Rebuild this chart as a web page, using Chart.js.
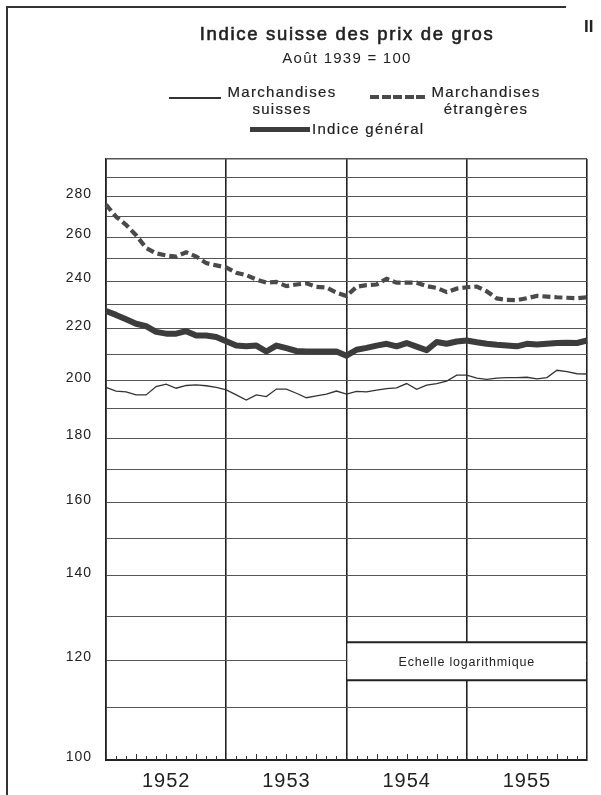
<!DOCTYPE html>
<html>
<head>
<meta charset="utf-8">
<script src="https://cdn.jsdelivr.net/npm/chart.js@4.4.1/dist/chart.umd.min.js"></script>
<style>
  html, body { margin: 0; padding: 0; background: #fff; }
  #wrap { position: relative; width: 601px; height: 795px; overflow: hidden; background: #fff;
          font-family: "Liberation Sans", Arial, sans-serif; color: #222; }
  #wrap canvas { position: absolute; left: 0; top: 0; }
  .t { position: absolute; white-space: nowrap; }
  .c { transform: translateX(-50%); text-align: center; }
  .frameL { position: absolute; left: 6px; top: 6px; width: 2px; height: 789px; background: #333; }
  .frameT { position: absolute; left: 6px; top: 6px; width: 560px; height: 2px; background: #333; }
  .leg { font-size: 15px; letter-spacing: 1.3px; line-height: 16.7px; -webkit-text-stroke: 0.2px #222; }
</style>
</head>
<body>
<div id="wrap">
  <canvas id="c" width="601" height="795"></canvas>
  <div class="frameL"></div>
  <div class="frameT"></div>
  <div class="t" style="left:584px; top:18px; font-size:17px; font-weight:bold; line-height:17px;">II</div>
  <div class="t c" id="title" style="left:347px; top:25px; font-size:18.5px; line-height:18.5px; letter-spacing:1.7px; -webkit-text-stroke:0.6px #222;"></div>
  <div class="t c" id="subtitle" style="left:347px; top:49.5px; font-size:15px; line-height:15px; letter-spacing:1.25px;"></div>

  <div style="position:absolute; left:169px; top:97px; width:52px; height:2px; background:#333;"></div>
  <div class="t c leg" id="leg0" style="left:282px; top:84px;"></div>

  <div style="position:absolute; left:370px; top:95px; width:57px; height:4px;
       background: repeating-linear-gradient(90deg, #4a4a4a 0 9px, transparent 9px 11.5px);"></div>
  <div class="t c leg" id="leg1" style="left:486px; top:84px;"></div>

  <div style="position:absolute; left:250px; top:126.5px; width:60px; height:5.5px; background:#3c3c3c;"></div>
  <div class="t leg" id="leg2" style="left:312px; top:120.5px;"></div>
</div>
<script>
// ---- data ----
const titleText = 'Indice suisse des prix de gros';
const subtitleText = 'Août 1939 = 100';
const seriesNames = ['Marchandises\nsuisses', 'Marchandises\nétrangères', 'Indice général'];
const scaleNote = 'Echelle logarithmique';

const years = ['1952', '1953', '1954', '1955'];
const months = [
  '1952-01','1952-02','1952-03','1952-04','1952-05','1952-06','1952-07','1952-08','1952-09','1952-10','1952-11','1952-12',
  '1953-01','1953-02','1953-03','1953-04','1953-05','1953-06','1953-07','1953-08','1953-09','1953-10','1953-11','1953-12',
  '1954-01','1954-02','1954-03','1954-04','1954-05','1954-06','1954-07','1954-08','1954-09','1954-10','1954-11','1954-12',
  '1955-01','1955-02','1955-03','1955-04','1955-05','1955-06','1955-07','1955-08','1955-09','1955-10','1955-11','1955-12',
  '1956-01'
];

const suisses = [
  197.6, 196.3, 196.0, 194.9, 194.9, 197.9, 198.8, 197.3, 198.3, 198.5, 198.2, 197.6,
  196.7, 194.9, 193.1, 194.9, 194.3, 197.0, 197.0, 195.5, 193.9, 194.6, 195.2, 196.3,
  195.2, 196.2, 196.0, 196.6, 197.2, 197.4, 199.0, 196.9, 198.4, 199.0, 199.9, 202.1,
  202.1, 201.0, 200.5, 201.0, 201.2, 201.2, 201.3, 200.7, 201.2, 203.9, 203.4, 202.6,
  202.5
];
const etrangeres = [
  276.0, 270.0, 266.0, 261.0, 255.0, 252.5, 251.5, 251.0, 253.0, 251.0, 248.0, 247.0,
  246.0, 243.7, 242.6, 240.7, 239.3, 239.6, 237.8, 238.5, 239.0, 237.5, 237.2, 235.0,
  233.5, 237.5, 238.2, 238.5, 241.0, 239.3, 239.3, 239.3, 237.8, 237.0, 235.2, 236.7,
  237.3, 237.6, 235.5, 232.5, 231.9, 231.8, 232.6, 233.6, 233.3, 233.0, 232.8, 232.6,
  233.0
];
const general = [
  227.2, 225.6, 223.8, 222.0, 221.0, 218.7, 218.0, 218.0, 219.0, 217.3, 217.3, 216.7,
  215.0, 213.3, 213.0, 213.3, 211.0, 213.3, 212.3, 211.2, 211.0, 211.0, 211.0, 211.0,
  209.4, 211.7, 212.4, 213.3, 214.0, 213.0, 214.3, 212.9, 211.5, 214.7, 214.0, 214.9,
  215.3, 214.6, 214.0, 213.6, 213.3, 213.0, 214.0, 213.7, 214.0, 214.3, 214.4, 214.3,
  215.3
];

const yGrid = [100,110,120,130,140,150,160,170,180,190,200,210,220,230,240,250,260,270,280,290,300];
const yLabels = [100,120,140,160,180,200,220,240,260,280];

// ---- text ----
document.getElementById('title').textContent = titleText;
document.getElementById('subtitle').textContent = subtitleText;
['leg0','leg1','leg2'].forEach((id, i) => {
  const el = document.getElementById(id);
  seriesNames[i].split('\n').forEach((line, k) => {
    if (k) el.appendChild(document.createElement('br'));
    el.appendChild(document.createTextNode(line));
  });
});

const FONT = '"Liberation Sans", Arial, sans-serif';

const extras = {
  id: 'extras',
  beforeDraw(chart) {
    try { chart.ctx.letterSpacing = '1px'; } catch (e) {}
  },
  beforeDatasetsDraw(chart) {
    const { ctx, chartArea: a, scales: { x, y } } = chart;
    ctx.save();
    // monthly tick marks on the base line
    ctx.strokeStyle = '#333';
    ctx.lineWidth = 1;
    for (let i = 1; i < months.length - 1; i++) {
      if (i % 12 === 0) continue;
      const px = Math.round(x.getPixelForValue(i)) + 0.5;
      const len = (i % 3 === 0) ? 6 : 4;
      ctx.beginPath();
      ctx.moveTo(px, a.bottom);
      ctx.lineTo(px, a.bottom - len);
      ctx.stroke();
    }
    // "Echelle logarithmique" box (from the 1954 line to the right border)
    const x0 = x.getPixelForValue(24);
    const x1 = a.right;
    const yt = y.getPixelForValue(124);
    const yb = y.getPixelForValue(115.7);
    ctx.fillStyle = '#fff';
    ctx.fillRect(x0 + 1, yt, x1 - x0 - 2, yb - yt);
    ctx.strokeStyle = '#222';
    ctx.lineWidth = 2;
    ctx.beginPath();
    ctx.moveTo(x0, yt); ctx.lineTo(x1, yt);
    ctx.moveTo(x0, yb); ctx.lineTo(x1, yb);
    ctx.stroke();
    ctx.fillStyle = '#222';
    ctx.font = '12.5px ' + FONT;
    try { ctx.letterSpacing = '0.8px'; } catch (e) {}
    ctx.textAlign = 'center';
    ctx.textBaseline = 'middle';
    ctx.fillText(scaleNote, (x0 + x1) / 2, (yt + yb) / 2 + 1);
    ctx.restore();
  }
};

new Chart(document.getElementById('c'), {
  type: 'line',
  data: {
    labels: months,
    datasets: [
      { label: seriesNames[0], data: suisses, borderColor: '#333', borderWidth: 1.3,
        pointRadius: 0, tension: 0, fill: false },
      { label: seriesNames[1], data: etrangeres, borderColor: '#4a4a4a', borderWidth: 4.2,
        borderDash: [8, 4], pointRadius: 0, tension: 0, fill: false },
      { label: seriesNames[2], data: general, borderColor: '#3c3c3c', borderWidth: 6,
        pointRadius: 0, tension: 0, fill: false, borderJoinStyle: 'round' }
    ]
  },
  options: {
    responsive: false,
    animation: false,
    layout: { padding: { top: 159, right: 14, left: 0, bottom: 0 } },
    plugins: { legend: { display: false }, title: { display: false }, tooltip: { enabled: false } },
    scales: {
      x: {
        type: 'category',
        offset: false,
        afterFit(s) { s.height = 35; },
        grid: {
          drawTicks: false,
          color: c => (c.index % 12 === 0) ? '#222' : 'rgba(0,0,0,0)',
          lineWidth: 1.6
        },
        border: { display: true, color: '#222', width: 2 },
        ticks: {
          autoSkip: false, maxRotation: 0, minRotation: 0, padding: 9,
          color: '#222', font: { family: FONT, size: 20 },
          callback: (v, i) => (i % 12 === 6) ? years[Math.floor(i / 12)] : ''
        }
      },
      y: {
        type: 'logarithmic',
        min: 100, max: 300,
        afterFit(s) { s.width = 106; },
        afterBuildTicks(s) { s.ticks = yGrid.map(v => ({ value: v })); },
        grid: {
          drawTicks: false,
          color: '#555',
          lineWidth: c => (c.tick && c.tick.value === 300) ? 1.6 : 1
        },
        border: { display: true, color: '#222', width: 1.6 },
        ticks: {
          padding: 14, labelOffset: -3, color: '#222',
          font: { family: FONT, size: 14 },
          callback: v => yLabels.includes(v) ? String(v) : ''
        }
      }
    }
  },
  plugins: [extras]
});
</script>
</body>
</html>
